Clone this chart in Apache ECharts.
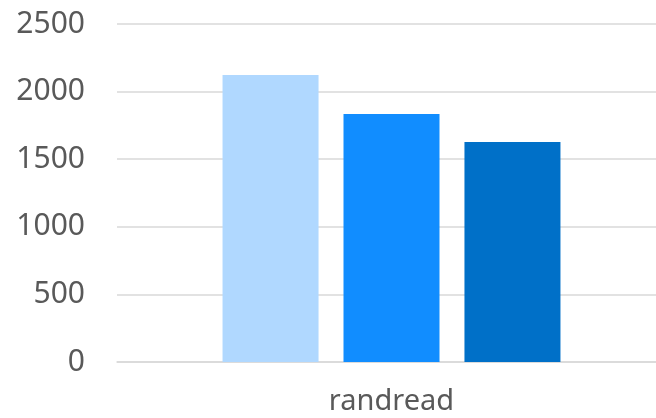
<!DOCTYPE html>
<html>
<head>
<meta charset="utf-8">
<script src="https://cdn.jsdelivr.net/npm/echarts@6/dist/echarts.min.js"></script>
<style>
    html, body { margin: 0; padding: 0; background: #fff; }
    #chart { width: 656px; height: 418px; }
</style>
</head>
<body>
<div id="chart"></div>
<script>
// data
const categories = ['randread']
const seriesNames = ['A', 'B', 'C']
const seriesValues = [[2123], [1834], [1627]]
const seriesColors = ['#B0D8FF', '#118DFF', '#0070C8']

const myChart = echarts.init(document.getElementById('chart'))
myChart.setOption({
    animation: false,
    grid: {
        left: 117,
        right: -10,
        top: 24,
        bottom: 56,
        outerBoundsMode: 'none',
        containLabel: false
    },
    xAxis: {
        type: 'category',
        data: categories,
        axisLine: { lineStyle: { color: '#d9d9d9', width: 1.5 } },
        axisTick: { show: false },
        axisLabel: {
            color: '#595959',
            fontSize: 29,
            fontFamily: 'Noto Sans',
            margin: 25
        }
    },
    yAxis: {
        type: 'value',
        min: 0,
        max: 2500,
        interval: 500,
        axisLine: { show: false },
        axisTick: { show: false },
        splitLine: { lineStyle: { color: '#d9d9d9', width: 1.5 } },
        axisLabel: {
            color: '#595959',
            fontSize: 30,
            fontFamily: 'Noto Sans',
            margin: 32,
            formatter: (v) => String(v)
        }
    },
    series: seriesNames.map((name, i) => {
        return {
            name,
            type: 'bar',
            data: seriesValues[i],
            barWidth: 96,
            barGap: '26%',
            itemStyle: { color: seriesColors[i] }
        }
    })
})
</script>
</body>
</html>
